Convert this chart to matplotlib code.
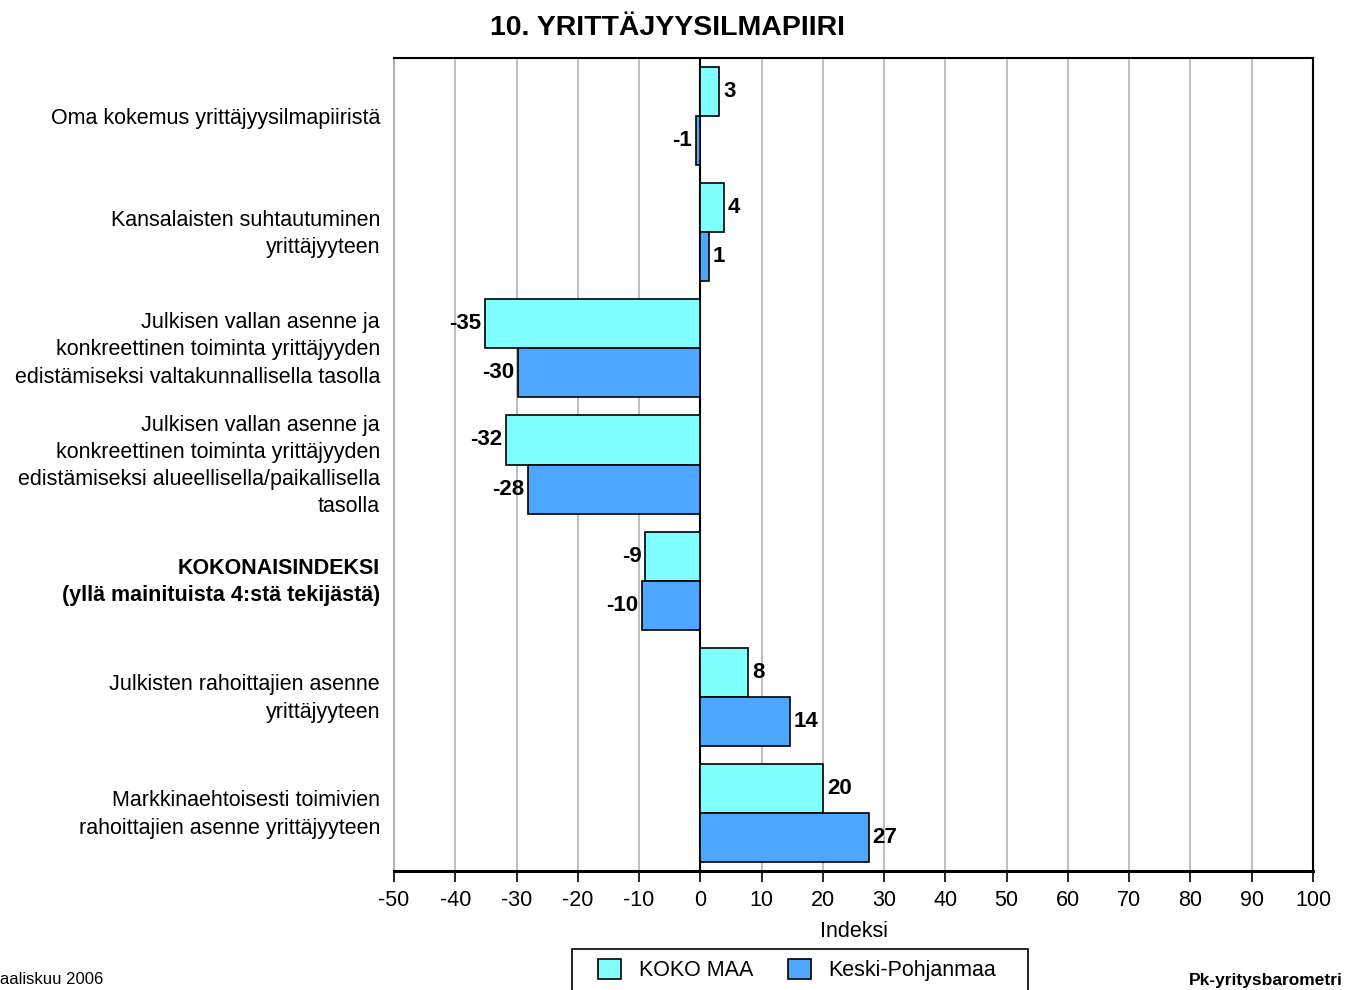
import matplotlib
matplotlib.use("Agg")
import matplotlib.pyplot as plt
import numpy as np
from matplotlib.patches import Patch, Rectangle

categories = [
    "Oma kokemus yrittäjyysilmapiiristä",
    "Kansalaisten suhtautuminen\nyrittäjyyteen",
    "Julkisen vallan asenne ja\nkonkreettinen toiminta yrittäjyyden\nedistämiseksi valtakunnallisella tasolla",
    "Julkisen vallan asenne ja\nkonkreettinen toiminta yrittäjyyden\nedistämiseksi alueellisella/paikallisella\ntasolla",
    "KOKONAISINDEKSI\n(yllä mainituista 4:stä tekijästä)",
    "Julkisten rahoittajien asenne\nyrittäjyyteen",
    "Markkinaehtoisesti toimivien\nrahoittajien asenne yrittäjyyteen",
]
koko_maa = [3.1, 3.9, -35.1, -31.8, -9.0, 7.8, 20.1]
keski_pohjanmaa = [-0.7, 1.4, -29.8, -28.1, -9.6, 14.6, 27.5]
koko_labels = ["3", "4", "-35", "-32", "-9", "8", "20"]
kp_labels = ["-1", "1", "-30", "-28", "-10", "14", "27"]
series_names = ["KOKO MAA", "Keski-Pohjanmaa"]
xticks = list(range(-50, 101, 10))

c1 = "#80FFFF"
c2 = "#4DA6FF"
font = "Liberation Sans"
plt.rcParams["font.family"] = [font, "DejaVu Sans"]

fig = plt.figure(figsize=(13.5, 9.9), dpi=100)
ax = fig.add_axes([394/1350, 1-871/990, (1313-394)/1350, (871-58)/990])

n = len(categories)
y = np.arange(n)
h = 0.422
ax.barh(y - h/2, koko_maa, height=h, color=c1, edgecolor="black", linewidth=1.2, zorder=3)
ax.barh(y + h/2, keski_pohjanmaa, height=h, color=c2, edgecolor="black", linewidth=1.2, zorder=3)

for yi, v, lab in zip(y - h/2, koko_maa, koko_labels):
    ax.text(v + (0.6 if v >= 0 else -0.6), yi, lab, ha="left" if v >= 0 else "right",
            va="center", fontsize=16, fontweight="bold", zorder=4)
for yi, v, lab in zip(y + h/2, keski_pohjanmaa, kp_labels):
    ax.text(v + (0.6 if v >= 0 else -0.6), yi, lab, ha="left" if v >= 0 else "right",
            va="center", fontsize=16, fontweight="bold", zorder=4)

ax.set_xlim(-50, 100)
ax.set_ylim(n - 0.5, -0.5)
ax.set_xticks(xticks)
ax.set_xticklabels([str(t) for t in xticks], fontsize=15.5)
ax.set_yticks(y)
ax.set_yticklabels([""] * n)
for yi, cat in zip(y, categories):
    multi = "\n" in cat
    ax.annotate(cat, xy=(0, yi), xycoords=ax.get_yaxis_transform(),
                xytext=(-14 * 0.72, (4 * 0.72) if multi else 0), textcoords="offset points",
                ha="right", va="center_baseline", fontsize=15.5, linespacing=1.39,
                fontweight="bold" if cat.startswith("KOKONAIS") else "normal",
                annotation_clip=False)
ax.tick_params(axis="y", length=0, pad=10)
ax.tick_params(axis="x", length=8, width=1.2, direction="out", pad=6)
ax.grid(axis="x", color="#b4b4b4", linewidth=1.2, zorder=0)
ax.axvline(0, color="black", linewidth=1.5, zorder=2)
for s in ["top", "right", "left"]:
    ax.spines[s].set_linewidth(1.5)
ax.spines["left"].set_color("#b4b4b4")
ax.spines["bottom"].set_linewidth(2.2)
ax.set_xlabel("Indeksi", fontsize=15.5, labelpad=7)

fig.text(0.4945, 1-28/990, "10. YRITTÄJYYSILMAPIIRI", ha="center", va="center",
         fontsize=20.5, fontweight="bold")

handles = [Patch(facecolor=c1, edgecolor="black", linewidth=1.2),
           Patch(facecolor=c2, edgecolor="black", linewidth=1.2)]
leg = fig.legend(handles, series_names, loc="center", bbox_to_anchor=(797/1350, 1-970/990),
                 ncol=2, fontsize=15.5, frameon=False,
                 handlelength=1.1, handleheight=1.1, columnspacing=1.6, borderpad=0,
                 handletextpad=0.8, borderaxespad=0)
fig.patches.append(Rectangle((572/1350, -0.02), (1028-572)/1350, 0.02 + (990-949)/990,
                             transform=fig.transFigure, facecolor="none", edgecolor="black",
                             linewidth=1.2))

fig.text(-14/1350, 1-979/990, "Maaliskuu 2006", ha="left", va="center", fontsize=12)
fig.text(1343/1350, 1-980/990, "Pk-yritysbarometri", ha="right", va="center",
         fontsize=12.5, fontweight="bold")

fig.savefig("out.png", dpi=100)
